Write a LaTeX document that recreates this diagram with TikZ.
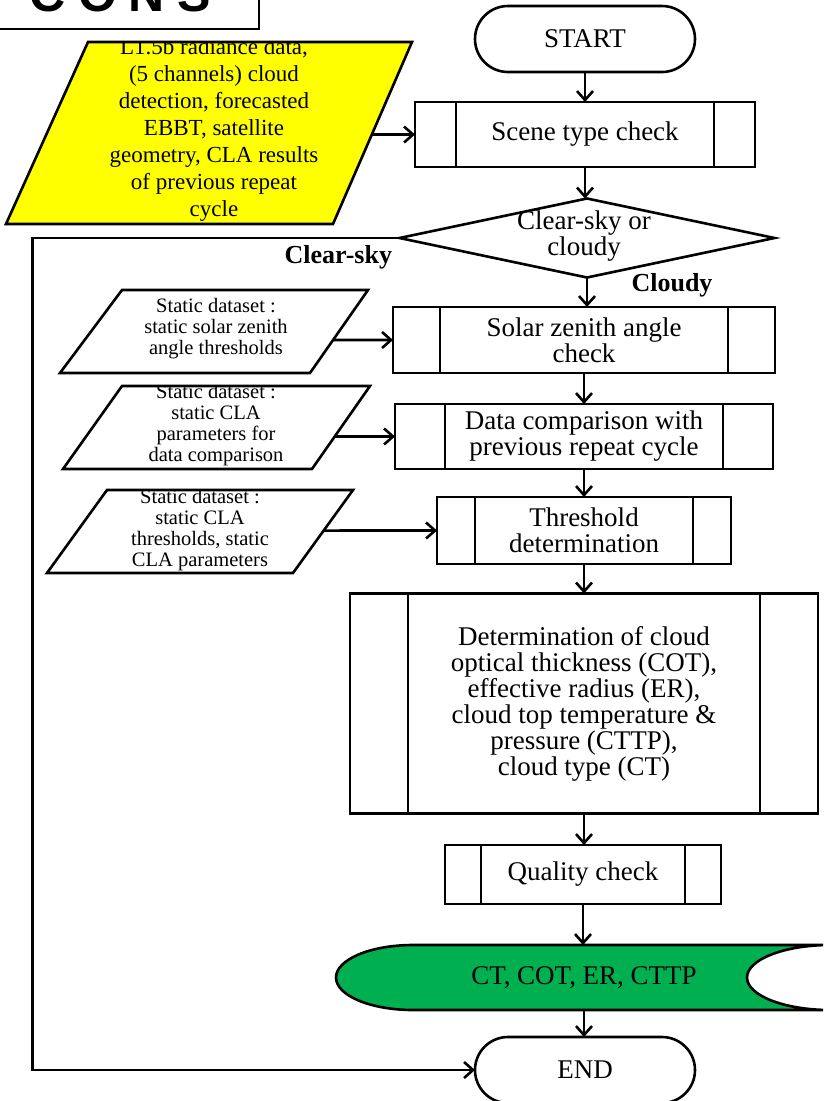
\documentclass[tikz,border=0pt]{standalone}
\usepackage{fontspec}
\setmainfont{Liberation Serif}
\newfontfamily\headfont[LetterSpace=24]{Liberation Sans}
\usetikzlibrary{arrows.meta,shapes.geometric,shapes.misc}
\definecolor{inYellow}{RGB}{255,255,0}
\definecolor{outGreen}{RGB}{0,176,80}

\begin{document}
\begin{tikzpicture}[x=1pt,y=-1pt,
  line width=2.6pt,
  every node/.style={inner sep=0pt, outer sep=0pt, align=center},
  maintext/.style={font=\fontsize{27}{26}\selectfont},
  smalltext/.style={font=\fontsize{20.5}{21}\selectfont},
  inputtext/.style={font=\fontsize{23}{27}\selectfont},
  lbl/.style={font=\fontsize{26}{26}\selectfont\bfseries},
  arr/.style={-{Straight Barb[length=9pt,width=16pt]}},
  terminal/.style={draw, rounded rectangle, minimum width=220pt, minimum height=66pt, maintext},
  predef/.style={draw, rectangle, maintext, path picture={
     \draw[line width=2.6pt] ([xshift=#1]path picture bounding box.north west) -- ([xshift=#1]path picture bounding box.south west);
     \draw[line width=2.6pt] ([xshift=-#1]path picture bounding box.north east) -- ([xshift=-#1]path picture bounding box.south east);}},
]
\useasboundingbox (0,0) rectangle (823,1101);
\clip (0,0) rectangle (823,1101);

% heading box in the top left corner
\node[draw, anchor=south east, minimum width=300pt, minimum height=90pt] (head) at (259,29) {};
\node[anchor=base west, font=\fontsize{50}{50}\headfont\bfseries] (headtext) at (30,11) {CONS};

% main column
\node[terminal] (start) at (585,39) {START};
\node[predef=41pt, minimum width=340pt, minimum height=65pt] (scene) at (585,134.5) {Scene type check};
\node[draw, diamond, minimum width=375pt, minimum height=79pt] (dec) at (587,238) {};
\node[maintext] (dectext) at (584,236) {Clear-sky or\\cloudy};
\node[predef=47pt, minimum width=382pt, minimum height=66pt] (solar) at (584,340) {Solar zenith angle\\check};
\node[predef=50pt, minimum width=378pt, minimum height=65pt] (comp) at (584,436.5) {Data comparison with\\previous repeat cycle};
\node[predef=38pt, minimum width=294pt, minimum height=67pt] (thr) at (584,530.5) {Threshold\\determination};
\node[predef=58pt, minimum width=468pt, minimum height=220pt] (prod) at (584,703.5)
  {Determination of cloud\\optical thickness (COT),\\effective radius (ER),\\cloud top temperature \&\\pressure (CTTP),\\cloud type (CT)};
\node[predef=36pt, minimum width=276pt, minimum height=59pt] (qual) at (583,874.5) {Quality check};

% stored output data
\filldraw[fill=outGreen] (413,945) -- (830,945)
  arc[start angle=270, end angle=90, x radius=83, y radius=32.5]
  -- (413,1010)
  arc[start angle=90, end angle=270, x radius=77, y radius=32.5] -- cycle;
\node[maintext, minimum height=65pt] (out) at (584,977.5) {CT, COT, ER, CTTP};

\node[terminal] (end) at (585,1070) {END};

% input data parallelograms: corners, fill, clipped text, outline
\coordinate (lvl-tl) at (88,42);   \coordinate (lvl-tr) at (412,42);
\coordinate (lvl-br) at (333,224); \coordinate (lvl-bl) at (6,224);
\coordinate (st1-tl) at (122,290); \coordinate (st1-tr) at (368,290);
\coordinate (st1-br) at (310,373); \coordinate (st1-bl) at (60,373);
\coordinate (st2-tl) at (122,386); \coordinate (st2-tr) at (370,386);
\coordinate (st2-br) at (312,469); \coordinate (st2-bl) at (63,469);
\coordinate (st3-tl) at (107,490); \coordinate (st3-tr) at (353,490);
\coordinate (st3-br) at (293,573); \coordinate (st3-bl) at (47,573);

\fill[inYellow] (lvl-tl) -- (lvl-tr) -- (lvl-br) -- (lvl-bl) -- cycle;
\begin{scope}
  \clip (lvl-tl) -- (lvl-tr) -- (lvl-br) -- (lvl-bl) -- cycle;
  \node[inputtext] (lvl) at (214,130)
    {L1.5b radiance data,\\(5 channels) cloud\\detection, forecasted\\EBBT, satellite\\geometry, CLA results\\of previous repeat\\cycle};
\end{scope}
\draw (lvl-tl) -- (lvl-tr) -- (lvl-br) -- (lvl-bl) -- cycle;

\begin{scope}
  \clip (st1-tl) -- (st1-tr) -- (st1-br) -- (st1-bl) -- cycle;
  \node[smalltext] (st1) at (216,329) {Static dataset :\\static solar zenith\\angle thresholds};
\end{scope}
\draw (st1-tl) -- (st1-tr) -- (st1-br) -- (st1-bl) -- cycle;

\begin{scope}
  \clip (st2-tl) -- (st2-tr) -- (st2-br) -- (st2-bl) -- cycle;
  \node[smalltext] (st2) at (216,425) {Static dataset :\\static CLA\\parameters for\\data comparison};
\end{scope}
\draw (st2-tl) -- (st2-tr) -- (st2-br) -- (st2-bl) -- cycle;

\begin{scope}
  \clip (st3-tl) -- (st3-tr) -- (st3-br) -- (st3-bl) -- cycle;
  \node[smalltext] (st3) at (200,530) {Static dataset :\\static CLA\\thresholds, static\\CLA parameters};
\end{scope}
\draw (st3-tl) -- (st3-tr) -- (st3-br) -- (st3-bl) -- cycle;

% branch labels
\node[lbl, anchor=east] (clearlbl) at (392,257) {Clear-sky};
\node[lbl] (cloudylbl) at (672,285) {Cloudy};

% main flow
\draw[arr] (start.south) -- (start.south |- scene.north);
\draw[arr] (scene.south) -- (scene.south |- dec.north);
\draw[arr] (dec.south) -- (dec.south |- solar.north);
\draw[arr] (solar.south) -- (solar.south |- comp.north);
\draw[arr] (comp.south) -- (comp.south |- thr.north);
\draw[arr] (thr.south) -- (thr.south |- prod.north);
\draw[arr] (prod.south) -- (prod.south |- qual.north);
\draw[arr] (qual.south) -- (qual.south |- out.north);
\draw[arr] (out.south) -- (out.south |- end.north);
\draw[arr] (dec.west) -- ++(-367,0) |- (end.west);

% inputs into the processing steps
\draw[arr] (intersection of lvl-tr--lvl-br and scene.west--scene.east) -- (scene.west);
\draw[arr] (intersection of st1-tr--st1-br and solar.west--solar.east) -- (solar.west);
\draw[arr] (intersection of st2-tr--st2-br and comp.west--comp.east) -- (comp.west);
\draw[arr] (intersection of st3-tr--st3-br and thr.west--thr.east) -- (thr.west);
\end{tikzpicture}
\end{document}
